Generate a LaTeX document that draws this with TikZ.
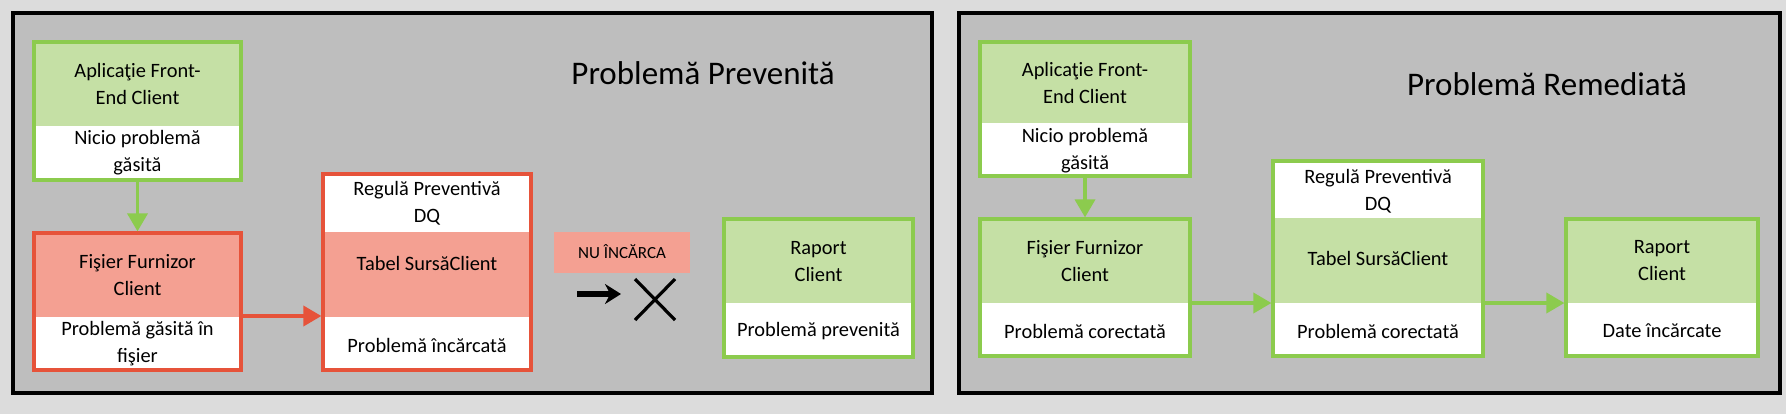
\documentclass[tikz,border=0pt]{standalone}
\usepackage{fontspec}
\setmainfont{Carlito}
\usetikzlibrary{fit,arrows.meta}
\definecolor{bgout}{HTML}{DCDCDC}
\definecolor{panel}{HTML}{BEBEBE}
\definecolor{gfill}{HTML}{C5E0A5}
\definecolor{gline}{HTML}{8CCB4E}
\definecolor{rfill}{HTML}{F4A092}
\definecolor{rline}{HTML}{E6533A}
\begin{document}
\begin{tikzpicture}[x=0.5pt,y=-0.5pt,
  gbox/.style={draw=gline,line width=1.6pt,inner sep=0pt},
  rbox/.style={draw=rline,line width=1.6pt,inner sep=0pt},
  txt/.style={font=\fontsize{10.2}{13.5}\selectfont,align=center,inner sep=0pt},
  ttl/.style={font=\fontsize{16.5}{19}\selectfont,inner sep=0pt},
  garr/.style={draw=gline,line width=1.8pt,-{Triangle[length=9pt,width=10pt]}},
  rarr/.style={draw=rline,line width=1.8pt,-{Triangle[length=9pt,width=10pt]}}]
\useasboundingbox (0,0) rectangle (1786,414);
\fill[bgout] (0,0) rectangle (1786,414);
\node[fit={(13,13)(932,393)},draw=black,fill=panel,line width=1.6pt,inner sep=0pt] (p1) {};
\node[fit={(959,13)(1780,393)},draw=black,fill=panel,line width=1.6pt,inner sep=0pt] (p2) {};
\node[ttl] (t1) at (703,73) {Problemă Prevenită};
\node[ttl] (t2) at (1547,84) {Problemă Remediată};
% Panel 1
\fill[gfill] (34,42) rectangle (241,126); \fill[white] (34,126) rectangle (241,180);
\node[gbox,fit={(34,42)(241,180)}] (a1) {};
\node[txt] (a1t) at (137.5,84) {Aplicaţie Front-\\End Client};
\node[txt] (a1b) at (137.5,153) {Nicio problemă\\găsită};
\fill[rfill] (34,233) rectangle (241,317); \fill[white] (34,317) rectangle (241,370);
\node[rbox,fit={(34,233)(241,370)}] (b1) {};
\node[txt] (b1t) at (137.5,275) {Fişier Furnizor\\Client};
\node[txt] (b1b) at (137.5,344) {Problemă găsită în\\fişier};
\fill[white] (323,174) rectangle (531,232); \fill[rfill] (323,232) rectangle (531,317); \fill[white] (323,317) rectangle (531,370);
\node[rbox,fit={(323,174)(531,370)}] (c1) {};
\node[txt] (c1t) at (427,203) {Regulă Preventivă\\DQ};
\node[txt] (c1m) at (427,263) {Tabel SursăClient};
\node[txt] (c1b) at (427,345) {Problemă încărcată};
\node[fill=rfill,minimum width=68pt,minimum height=20.5pt,inner sep=0pt,font=\fontsize{8.5}{10}\selectfont] (nu) at (622,252) {NU ÎNCĂRCA};
\coordinate (k1) at (577,294); \coordinate (k2) at (621,294);
\draw[line width=3.4pt,-{Stealth[length=8pt,width=10pt]}] (k1) -- (k2);
\coordinate (x1) at (635,279); \coordinate (x2) at (675,320); \coordinate (x3) at (675,279); \coordinate (x4) at (635,320);
\draw[line width=1.6pt] (x1) -- (x2) (x3) -- (x4);
\fill[gfill] (724,219) rectangle (913,303); \fill[white] (724,303) rectangle (913,357);
\node[gbox,fit={(724,219)(913,357)}] (d1) {};
\node[txt] (d1t) at (818.5,262) {Raport\\Client};
\node[txt] (d1b) at (818.5,331) {Problemă prevenită};
\draw[garr] (a1) -- (b1);
\draw[rarr] (241,316) -- (c1.west |- 0,316);
% Panel 2
\fill[gfill] (980,42) rectangle (1190,123); \fill[white] (980,123) rectangle (1190,176);
\node[gbox,fit={(980,42)(1190,176)}] (a2) {};
\node[txt] (a2t) at (1085,83) {Aplicaţie Front-\\End Client};
\node[txt] (a2b) at (1085,151) {Nicio problemă\\găsită};
\fill[gfill] (980,219) rectangle (1190,303); \fill[white] (980,303) rectangle (1190,356);
\node[gbox,fit={(980,219)(1190,356)}] (b2) {};
\node[txt] (b2t) at (1085,261) {Fişier Furnizor\\Client};
\node[txt] (b2b) at (1085,331) {Problemă corectată};
\fill[white] (1273,161) rectangle (1483,218); \fill[gfill] (1273,218) rectangle (1483,303); \fill[white] (1273,303) rectangle (1483,356);
\node[gbox,fit={(1273,161)(1483,356)}] (c2) {};
\node[txt] (c2t) at (1378,191) {Regulă Preventivă\\DQ};
\node[txt] (c2m) at (1378,258) {Tabel SursăClient};
\node[txt] (c2b) at (1378,331) {Problemă corectată};
\fill[gfill] (1566,219) rectangle (1758,303); \fill[white] (1566,303) rectangle (1758,356);
\node[gbox,fit={(1566,219)(1758,356)}] (d2) {};
\node[txt] (d2t) at (1662,261) {Raport\\Client};
\node[txt] (d2b) at (1662,331) {Date încărcate};
\draw[garr] (a2) -- (b2);
\draw[garr] (b2.east |- 0,303) -- (c2.west |- 0,303);
\draw[garr] (c2.east |- 0,303) -- (d2.west |- 0,303);
\end{tikzpicture}
\end{document}
